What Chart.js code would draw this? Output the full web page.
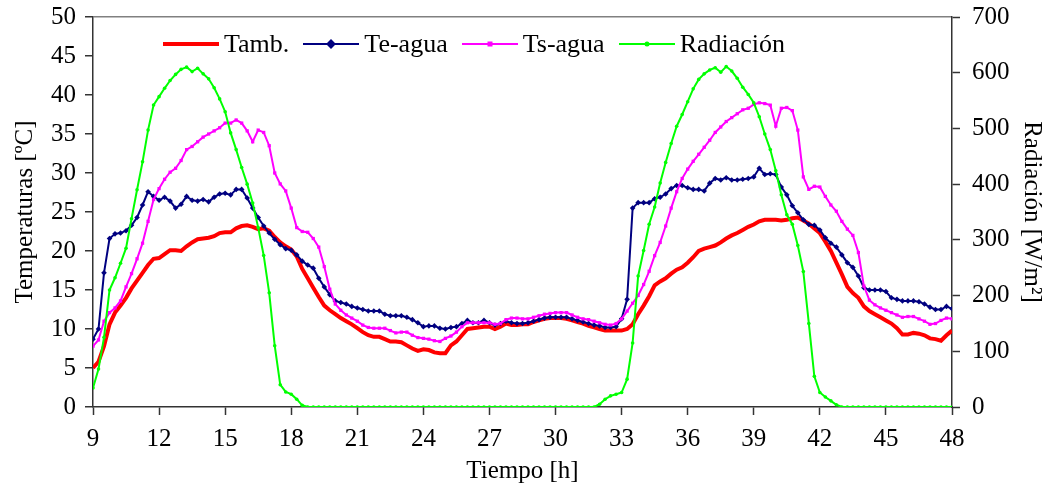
<!DOCTYPE html>
<html lang="es">
<head>
<meta charset="utf-8">
<title>Temperaturas y radiación</title>
<script src="https://cdn.jsdelivr.net/npm/chart.js@4.4.1/dist/chart.umd.min.js"></script>
<style>
  html, body { margin: 0; padding: 0; background: #fff; }
  #wrap { position: relative; width: 1047px; height: 496px; }
  #chart { display: block; }
  #legend {
    position: absolute; left: 163px; top: 29px;
    display: flex; align-items: center;
    font-family: "Liberation Serif", "Times New Roman", serif;
    font-size: 26px; color: #000; white-space: nowrap;
  }
  .item { display: flex; align-items: center; margin-right: 14px; }
  .item svg { margin-right: 5px; }
</style>
</head>
<body>
<div id="wrap">
  <canvas id="chart" width="1047" height="496"></canvas>
  <div id="legend"></div>
</div>
<script>
// ==== datos (una muestra cada 15 min, de 9 h a 48 h) ====
const START_H = 9;
const STEP_H = 0.25;

const X_TICKS = [9, 12, 15, 18, 21, 24, 27, 30, 33, 36, 39, 42, 45, 48];
const Y_TICKS = [0, 5, 10, 15, 20, 25, 30, 35, 40, 45, 50];
const Y1_TICKS = [0, 100, 200, 300, 400, 500, 600, 700];

const SERIES_NAMES = ["Tamb.", "Te-agua", "Ts-agua", "Radiación"];

// Temperatura ambiente [ºC]
const tamb = [
  5.0, 5.8, 7.8, 10.6,   12.1, 13.0, 14.0, 15.2,   16.2, 17.2, 18.2, 19.0,
  19.1, 19.6, 20.1, 20.1,   20.0, 20.6, 21.1, 21.5,   21.6, 21.7, 21.9, 22.3,
  22.4, 22.4, 22.9, 23.2,   23.3, 23.1, 22.8, 22.9,   22.6, 21.8, 21.1, 20.6,
  20.2, 19.3, 17.7, 16.5,   15.3, 14.1, 13.0, 12.4,   11.9, 11.4, 11.0, 10.6,
  10.1, 9.6, 9.2, 9.0,   9.0, 8.7, 8.4, 8.4,   8.3, 7.9, 7.5, 7.2,
  7.4, 7.3, 7.0, 6.9,   6.9, 7.9, 8.4, 9.2,   10.0, 10.1, 10.2, 10.3,
  10.3, 10.0, 10.3, 10.7,   10.5, 10.5, 10.6, 10.6,   10.9, 11.1, 11.3, 11.4,
  11.4, 11.4, 11.3, 11.1,   10.9, 10.7, 10.4, 10.2,   10.0, 9.8, 9.8, 9.8,
  9.8, 10.0, 10.6, 11.9,   13.0, 14.2, 15.6, 16.1,   16.5, 17.1, 17.6, 17.9,
  18.5, 19.2, 20.0, 20.3,   20.5, 20.7, 21.1, 21.6,   22.0, 22.3, 22.7, 23.1,
  23.4, 23.8, 24.0, 24.0,   24.0, 23.9, 24.0, 24.2,   24.3, 23.9, 23.5, 22.9,
  22.3, 21.2, 20.0, 18.5,   17.0, 15.4, 14.6, 14.0,   12.9, 12.3, 11.9, 11.5,
  11.1, 10.7, 10.1, 9.3,   9.3, 9.5, 9.4, 9.2,   8.8, 8.7, 8.5, 9.2,
  9.8
];

// Temperatura de entrada del agua [ºC]
const teAgua = [
  8.7, 10.0, 17.2, 21.6,   22.2, 22.3, 22.6, 23.3,   24.3, 25.9, 27.6, 27.0,
  26.5, 26.9, 26.4, 25.5,   26.0, 27.0, 26.5, 26.4,   26.6, 26.3, 26.9, 27.3,
  27.4, 27.2, 27.9, 27.9,   26.8, 25.5, 24.3, 23.2,   22.3, 21.5, 20.8, 20.3,
  20.1, 19.5, 18.7, 18.2,   17.8, 16.5, 15.4, 14.4,   13.6, 13.4, 13.2, 12.9,
  12.7, 12.5, 12.3, 12.3,   12.3, 11.9, 11.7, 11.7,   11.7, 11.5, 11.2, 10.8,
  10.3, 10.4, 10.4, 10.1,   10.0, 10.2, 10.3, 10.7,   11.1, 10.8, 10.8, 11.1,
  10.8, 10.5, 10.7, 11.0,   10.8, 10.7, 10.7, 10.8,   11.0, 11.2, 11.4, 11.5,
  11.5, 11.5, 11.5, 11.3,   11.1, 10.9, 10.7, 10.5,   10.4, 10.2, 10.2, 10.3,
  11.3, 13.8, 25.5, 26.2,   26.2, 26.2, 26.7, 26.9,   27.3, 28.0, 28.4, 28.4,
  28.1, 27.9, 27.9, 27.7,   28.7, 29.3, 29.1, 29.4,   29.1, 29.1, 29.2, 29.3,
  29.5, 30.6, 29.8, 29.9,   29.8, 28.2, 27.2, 25.8,   24.9, 24.0, 23.4, 23.3,
  22.7, 21.7, 21.0, 20.5,   19.5, 18.5, 17.9, 16.8,   15.3, 15.0, 15.0, 15.0,
  14.8, 14.0, 13.8, 13.6,   13.6, 13.6, 13.5, 13.2,   12.8, 12.5, 12.5, 12.9,
  12.6
];

// Temperatura de salida del agua [ºC]
const tsAgua = [
  7.8, 8.6, 11.0, 12.1,   12.7, 13.6, 15.4, 17.1,   19.0, 21.0, 23.8, 26.6,
  28.0, 29.2, 30.1, 30.6,   31.6, 33.0, 33.4, 34.0,   34.6, 35.0, 35.4, 35.8,
  36.4, 36.4, 36.8, 36.4,   35.4, 34.0, 35.5, 35.2,   33.5, 30.0, 28.6, 27.7,
  25.5, 23.0, 22.5, 22.4,   21.6, 20.5, 18.0, 15.1,   13.2, 12.4, 11.8, 11.4,
  11.0, 10.5, 10.2, 10.1,   10.1, 10.1, 9.8, 9.5,   9.6, 9.6, 9.2, 8.9,
  8.8, 8.7, 8.5, 8.4,   8.8, 9.1, 9.6, 10.3,   10.8, 10.8, 10.8, 10.8,
  10.8, 10.6, 10.7, 11.2,   11.4, 11.4, 11.3, 11.3,   11.5, 11.7, 11.9, 12.0,
  12.1, 12.1, 12.1, 11.8,   11.5, 11.3, 11.2, 11.0,   10.8, 10.6, 10.5, 10.7,
  11.3, 12.3, 13.3, 14.3,   15.7, 17.4, 19.4, 21.1,   23.2, 25.5, 27.6, 29.3,
  30.5, 31.5, 32.4, 33.3,   34.2, 35.2, 35.9, 36.6,   37.1, 37.6, 38.1, 38.3,
  38.8, 39.0, 38.9, 38.7,   36.0, 38.3, 38.4, 38.0,   35.5, 29.5, 27.9, 28.3,
  28.2, 27.0, 25.9, 25.1,   23.8, 22.8, 22.0, 19.8,   15.5, 13.7, 13.1, 12.7,
  12.4, 12.1, 11.8, 11.5,   11.6, 11.6, 11.3, 11.0,   10.6, 10.7, 11.1, 11.4,
  11.3
];

// Radiación solar [W/m²]
const radiacion = [
  34, 68, 125, 210,   232, 258, 285, 338,   390, 440, 497, 542,
  557, 572, 586, 597,   606, 610, 602, 608,   598, 589, 573, 553,
  530, 492, 462, 430,   400, 366, 322, 272,   205, 110, 40, 27,
  23, 14, 3, 0,   0, 0, 0, 0,   0, 0, 0, 0,
  0, 0, 0, 0,   0, 0, 0, 0,   0, 0, 0, 0,
  0, 0, 0, 0,   0, 0, 0, 0,   0, 0, 0, 0,
  0, 0, 0, 0,   0, 0, 0, 0,   0, 0, 0, 0,
  0, 0, 0, 0,   0, 0, 0, 0,   5, 14, 20, 23,
  26, 50, 115, 235,   281, 328, 359, 402,   439, 473, 504, 525,
  548, 571, 588, 598,   605, 609, 601, 611,   603, 590, 574, 561,
  546, 521, 490, 462,   424, 381, 345, 328,   290, 243, 150, 55,
  26, 18, 11, 4,   0, 0, 0, 0,   0, 0, 0, 0,
  0, 0, 0, 0,   0, 0, 0, 0,   0, 0, 0, 0,
  0
];

const hours = tamb.map((_, i) => START_H + i * STEP_H);

// ==== estilo ====
const FONT_FAMILY = "'Liberation Serif', 'Times New Roman', serif";
const AXIS_COLOR = "#333333";
const COLORS = ["#FF0000", "#000080", "#FF00FF", "#00FF00"];

const tickFont = { family: FONT_FAMILY, size: 25 };
const titleFont = { family: FONT_FAMILY, size: 25 };

function toPoints(values) {
  return values.map((v, i) => ({ x: hours[i], y: v }));
}

// leyenda en HTML (dentro del área del gráfico, como en el original)
function buildLegend() {
  const markers = [
    "",
    '<rect x="24.5" y="2.5" width="7" height="7" transform="rotate(45 28 6)" fill="#000080"/>',
    '<rect x="25.5" y="3.5" width="5" height="5" fill="#FF00FF"/>',
    '<circle cx="28" cy="6" r="2.5" fill="#00FF00"/>'
  ];
  const widths = [4, 2, 2, 2];
  const $legend = document.getElementById("legend");
  SERIES_NAMES.forEach((name, i) => {
    const item = document.createElement("div");
    item.className = "item";
    item.innerHTML =
      `<svg width="56" height="12"><line x1="0" y1="6" x2="56" y2="6" stroke="${COLORS[i]}" stroke-width="${widths[i]}"/>${markers[i]}</svg>` +
      `<span>${name}</span>`;
    $legend.appendChild(item);
  });
}

function fixedTicks(list) {
  return (scale) => { scale.ticks = list.map(v => ({ value: v })); };
}

// ancho/alto fijo de cada eje y sin relleno extra por las etiquetas
function fixSize(prop, size) {
  return (scale) => {
    scale[prop] = size;
    scale.paddingTop = 0; scale.paddingBottom = 0;
    scale.paddingLeft = 0; scale.paddingRight = 0;
  };
}

const chart = new Chart(document.getElementById("chart"), {
  type: "line",
  data: {
    datasets: [
      {
        label: SERIES_NAMES[0], data: toPoints(tamb), yAxisID: "y",
        borderColor: COLORS[0], borderWidth: 4, pointRadius: 0, order: 4
      },
      {
        label: SERIES_NAMES[1], data: toPoints(teAgua), yAxisID: "y",
        borderColor: COLORS[1], backgroundColor: COLORS[1], borderWidth: 2,
        pointStyle: "rectRot", pointRadius: 2.8, pointBorderWidth: 0, order: 3
      },
      {
        label: SERIES_NAMES[2], data: toPoints(tsAgua), yAxisID: "y",
        borderColor: COLORS[2], backgroundColor: COLORS[2], borderWidth: 2,
        pointStyle: "rect", pointRadius: 2.3, pointBorderWidth: 0, order: 2
      },
      {
        label: SERIES_NAMES[3], data: toPoints(radiacion), yAxisID: "y1",
        borderColor: COLORS[3], backgroundColor: COLORS[3], borderWidth: 2,
        pointStyle: "circle", pointRadius: 1.8, pointBorderWidth: 0, order: 1
      }
    ]
  },
  options: {
    responsive: false,
    animation: false,
    layout: { padding: { top: 17, left: 0, right: 0, bottom: 0 } },
    plugins: { legend: { display: false }, tooltip: { enabled: false } },
    scales: {
      x: {
        type: "linear", min: 9, max: 48,
        afterBuildTicks: fixedTicks(X_TICKS),
        ticks: { font: tickFont, color: "#000", padding: 9, maxRotation: 0, autoSkip: false },
        grid: { drawOnChartArea: false, tickLength: 8, tickColor: AXIS_COLOR, tickWidth: 1.5 },
        border: { color: AXIS_COLOR, width: 1.5 },
        title: { display: true, text: "Tiempo [h]", font: titleFont, color: "#000", padding: { top: 0, bottom: 10 } },
        afterFit: fixSize("height", 89)
      },
      y: {
        position: "left", min: 0, max: 50,
        afterBuildTicks: fixedTicks(Y_TICKS),
        ticks: { font: tickFont, color: "#000", padding: 9 },
        grid: {
          color: c => (c.tick && c.tick.value === 50 ? "#808080" : "rgba(0,0,0,0)"),
          lineWidth: 1.5, tickLength: 8, tickColor: AXIS_COLOR, tickWidth: 1.5
        },
        border: { color: AXIS_COLOR, width: 1.5 },
        title: { display: true, text: "Temperaturas [ºC]", font: titleFont, color: "#000", padding: { top: 10, bottom: 0 } },
        afterFit: fixSize("width", 93)
      },
      y1: {
        position: "right", min: 0, max: 700,
        afterBuildTicks: fixedTicks(Y1_TICKS),
        ticks: { font: tickFont, color: "#000", padding: 12 },
        grid: { drawOnChartArea: false, tickLength: 8, tickColor: AXIS_COLOR, tickWidth: 1.5 },
        border: { color: AXIS_COLOR, width: 1.5 },
        title: { display: true, text: "Radiación [W/m²]", font: titleFont, color: "#000", padding: { top: 0, bottom: 0 } },
        afterFit: fixSize("width", 95)
      }
    }
  }
});

buildLegend();
</script>
</body>
</html>
